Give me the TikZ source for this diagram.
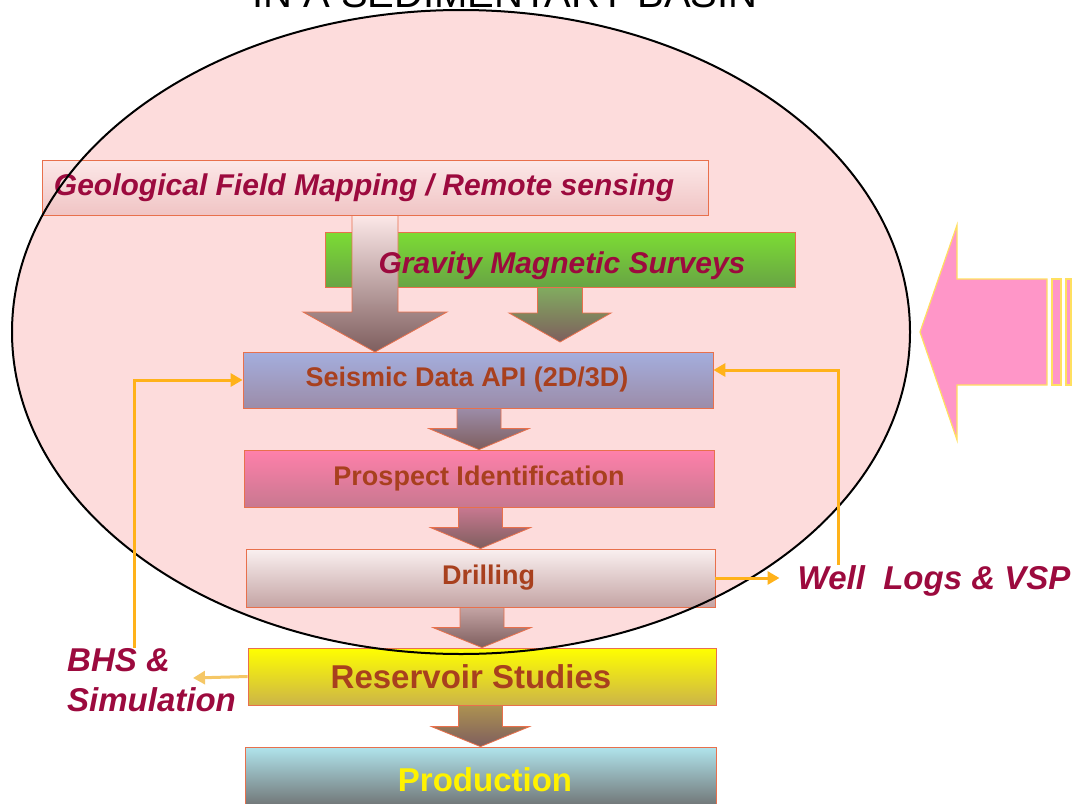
\documentclass[tikz,border=0pt]{standalone}
\usepackage{fontspec}
\setmainfont{Liberation Sans}
\usepackage{tikz}
\usetikzlibrary{arrows.meta,calc}

\definecolor{basin}{HTML}{FDDCDC}
\definecolor{boxline}{HTML}{E8704C}
\definecolor{labelred}{HTML}{9C0A3E}
\definecolor{boxtext}{HTML}{A8401E}
\definecolor{feedline}{HTML}{FFB21A}
\definecolor{feedpale}{HTML}{F5C766}
\definecolor{bigpink}{HTML}{FF96C8}
\definecolor{bigedge}{HTML}{FFE060}
\definecolor{arrowtop}{HTML}{E6CACA}
\definecolor{arrowbot}{HTML}{7E5E5E}
\definecolor{geotop}{HTML}{FCE8E8}
\definecolor{geobot}{HTML}{F0C4C4}
\definecolor{gravtop}{HTML}{7CDC34}
\definecolor{gravbot}{HTML}{68A444}
\definecolor{seistop}{HTML}{A4AEDE}
\definecolor{seisbot}{HTML}{9C8CA8}
\definecolor{prostop}{HTML}{FF80AA}
\definecolor{prosbot}{HTML}{C87890}
\definecolor{drilltop}{HTML}{FAF0F0}
\definecolor{drillbot}{HTML}{C4A4A4}
\definecolor{restop}{HTML}{FFFF00}
\definecolor{resbot}{HTML}{CCB448}
\definecolor{prodtop}{HTML}{B0E4EC}
\definecolor{prodbot}{HTML}{6A6A6A}

% #1 start, #2 tip, #3 shaft half width, #4 head half width, #5 head length, #6 top colour
\newcommand{\flowarrow}[6]{%
  \path[draw=boxline, line width=0.8, top color=#6, bottom color=arrowbot]
    let \p1=#1, \p2=#2 in
    (\x2-#3pt,\y1) -- (\x2+#3pt,\y1) -- (\x2+#3pt,\y2+#5pt) -- (\x2+#4pt,\y2+#5pt)
    -- (\x2,\y2) -- (\x2-#4pt,\y2+#5pt) -- (\x2-#3pt,\y2+#5pt) -- cycle;
}

\begin{document}
\begin{tikzpicture}[x=1pt, y=-1pt,
  box/.style={draw=boxline, line width=0.8, inner sep=0, text=boxtext,
    font=\bfseries\fontsize{27}{32}\selectfont},
  lbl/.style={inner sep=0, text=labelred, font=\bfseries\itshape\fontsize{33}{40}\selectfont},
  feed/.style={draw=feedline, line width=3, -{Triangle[length=12pt,width=13pt]}}]
\useasboundingbox (0,0) rectangle (1083,803);
\fill[basin] (461,332) ellipse [x radius=449, y radius=322];
\node[anchor=base, inner sep=0, font=\fontsize{40}{48}\selectfont] (title) at (505,7) {IN A SEDIMENTARY BASIN};

\node[box, minimum width=666, minimum height=55, top color=geotop, bottom color=geobot,
  text=labelred, font=\bfseries\itshape\fontsize{30}{36}\selectfont] (geo) at (375,187.5)
  {Geological Field Mapping / Remote sensing\hspace*{22pt}};
\node[box, minimum width=470, minimum height=55, top color=gravtop, bottom color=gravbot] (grav) at (560,259.5) {};
\coordinate (gravtip) at ($(grav.south |- 0,352)+(0,-10)$);
\flowarrow{(geo.south)}{(geo.south |- 0,352)}{23}{72}{40}{geotop}
\flowarrow{(grav.south)}{(gravtip)}{22.5}{51}{29}{gravbot!80!arrowtop}
\node[lbl, font=\bfseries\itshape\fontsize{30}{36}\selectfont] (gravtext) at (562,266) {Gravity Magnetic Surveys};

\node[box, minimum width=470, minimum height=56, top color=seistop, bottom color=seisbot] (seis) at (478,380) {Seismic Data API (2D/3D)\hspace*{22pt}};
\node[box, minimum width=470, minimum height=57, top color=prostop, bottom color=prosbot] (prosp) at (479,478.5) {Prospect Identification};
\node[box, minimum width=469, minimum height=58, top color=drilltop, bottom color=drillbot] (drill) at (480.5,578) {\hspace*{16pt}Drilling};
\node[box, minimum width=468, minimum height=57, top color=restop, bottom color=resbot,
  font=\bfseries\fontsize{33}{40}\selectfont] (res) at (482,676.5) {Reservoir Studies\hspace*{22pt}};
\node[box, minimum width=471, minimum height=65, top color=prodtop, bottom color=prodbot,
  text=yellow, font=\bfseries\fontsize{33}{40}\selectfont] (prod) at (480.5,779.5) {\hspace*{9pt}Production};

\flowarrow{(seis.south)}{(prosp.north)}{22}{50}{21}{seisbot}
\flowarrow{(prosp.south)}{(drill.north)}{22}{50}{21}{prosbot}
\flowarrow{(drill.south)}{(res.north)}{22}{49}{20}{drillbot}
\flowarrow{(res.south)}{(prod.north)}{22}{49}{20}{resbot!60!arrowbot}

\draw[line width=2] (461,332) ellipse [x radius=449, y radius=322];

\node[lbl, anchor=base] (well) at (934,589) {Well~~Logs \& VSP};
\node[lbl, anchor=north west, align=left] (bhs) at (67,648) {BHS \&\\Simulation};
\coordinate (bhsin) at (193,678);

\draw[feed] ([xshift=67pt]bhs.north west) |- (seis.west);
\draw[feed] ([xshift=-96pt]well.north) |- ([yshift=10pt]seis.east);
\draw[feed, shorten >=18pt] (drill.east) -- (drill.east -| well.west);
\draw[feed, draw=feedpale] (res.west) -- (bhsin);

% arrow from outside the basin
\filldraw[fill=bigpink, draw=bigedge, line width=1.2] (920,332) -- (957,225) -- (957,279)
  -- (1047,279) -- (1047,385) -- (957,385) -- (957,440) -- cycle;
\filldraw[fill=bigpink, draw=bigedge, line width=1.2] (1052,279) rectangle (1061,385);
\filldraw[fill=bigpink, draw=bigedge, line width=1.2] (1066,279) rectangle (1071,385);
\end{tikzpicture}
\end{document}
